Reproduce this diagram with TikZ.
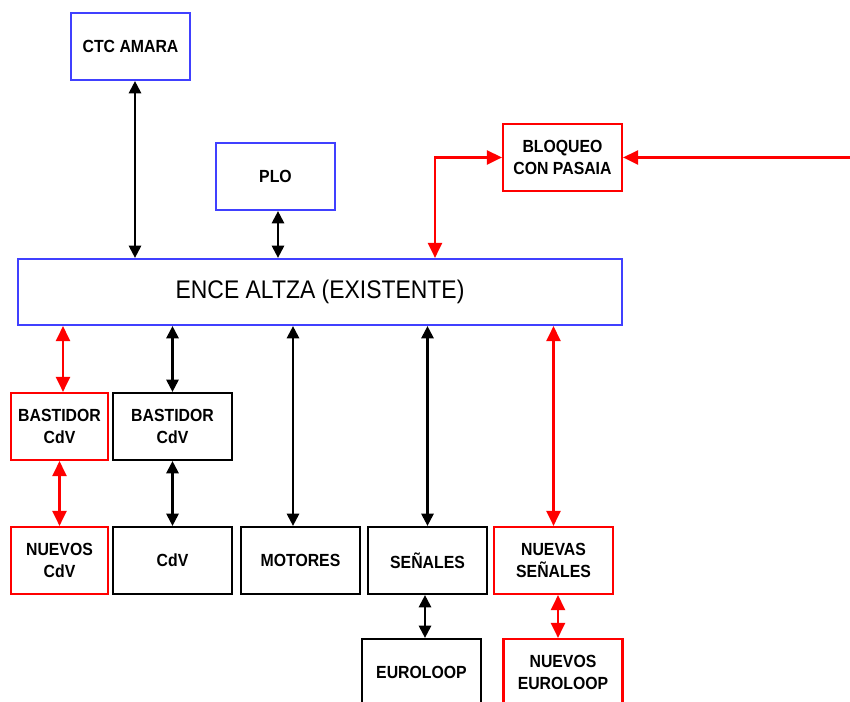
\documentclass[tikz,border=0pt]{standalone}
\usepackage{fontspec}
\setmainfont[FakeStretch=0.9]{Liberation Sans}
\usepackage{tikz}
\usetikzlibrary{positioning}
\usetikzlibrary{arrows.meta}
\usepackage{xcolor}

\definecolor{boxblue}{RGB}{64,64,255}
\definecolor{boxred}{RGB}{255,0,0}

\tikzset{
  blk/.style={draw=black, line width=1.25pt, minimum width=2.38cm, minimum height=1.34cm, inner sep=0pt, align=center, font=\bfseries\fontsize{10}{12.5}\selectfont},
  bluebox/.style={blk, draw=boxblue},
  redbox/.style={blk, draw=boxred},
  blkarrow/.style={line width=1.25pt, black, {Triangle[length=7pt,width=7pt]}-{Triangle[length=7pt,width=7pt]}},
  redarrow/.style={line width=1.25pt, boxred, {Triangle[length=8.5pt,width=8pt]}-{Triangle[length=8.5pt,width=8pt]}}
}

\begin{document}
\begin{tikzpicture}[scale=1]

\useasboundingbox (0,0) rectangle (17,14.04);
\clip (0,0) rectangle (17,14.04);

\begin{scope}[xshift=0cm]
% top row
\node[bluebox] (ctc) at (2.61,13.11) {CTC AMARA};
\node[bluebox] (plo) at (5.51,10.51) {PLO};
\node[redbox] (bloq) at (11.25,10.89) {BLOQUEO\\CON PASAIA};

\node[bluebox, minimum width=12.08cm, minimum height=1.32cm, font=\fontsize{14.5}{16}\selectfont] (ence) at (6.40,8.20) {ENCE ALTZA (EXISTENTE)};

% middle row
\node[redbox, minimum width=1.94cm] (bastr) at (1.19,5.51) {BASTIDOR\\CdV};
\node[blk] (bast) at (3.45,5.51) {BASTIDOR\\CdV};

% bottom row
\node[redbox, minimum width=1.94cm] (nuecdv) at (1.19,2.83) {NUEVOS\\CdV};
\node[blk] (cdv) at (3.45,2.83) {CdV};
\node[blk] (motores) at (6.01,2.83) {MOTORES};
\node[blk] (senales) at (8.55,2.83) {SEÑALES};
\node[redbox] (nuesen) at (11.07,2.83) {NUEVAS\\SEÑALES};

\node[blk] (euro) at (8.43,0.59) {EUROLOOP};
\node[redbox] (nueeuro) at (11.26,0.59) {NUEVOS\\EUROLOOP};

\coordinate (borde) at (17,10.89);

% connectors
\draw[blkarrow] ([xshift=0.09cm]ctc.south) -- ([xshift=0.09cm]ctc.south |- ence.north);
\draw[blkarrow] ([xshift=0.05cm]plo.south) -- ([xshift=0.05cm]plo.south |- ence.north);
\draw[redarrow] (bloq.west) -| ([xshift=2.30cm]ence.north);
\draw[line width=1.25pt, boxred, -{Triangle[length=8.5pt,width=8pt]}] (borde) -- (bloq.east);

\draw[redarrow] ([xshift=0.07cm]bastr.north) -- ([xshift=0.07cm]bastr.north |- ence.south);
\draw[blkarrow] (bast.north) -- (bast.north |- ence.south);
\draw[blkarrow] ([xshift=-0.15cm]motores.north) -- ([xshift=-0.15cm]motores.north |- ence.south);
\draw[blkarrow] (senales.north) -- (senales.north |- ence.south);
\draw[redarrow] (nuesen.north) -- (nuesen.north |- ence.south);

\draw[redarrow] (bastr.south) -- (nuecdv.north);
\draw[blkarrow] (bast.south) -- (cdv.north);
\draw[blkarrow] ([xshift=-0.05cm]senales.south) -- ([xshift=-0.05cm]senales.south |- euro.north);
\draw[redarrow] ([xshift=0.09cm]nuesen.south) -- ([xshift=0.09cm]nuesen.south |- nueeuro.north);

%\node[] at (8.5, 0.2) {X};
\end{scope}

\end{tikzpicture}
\end{document}
